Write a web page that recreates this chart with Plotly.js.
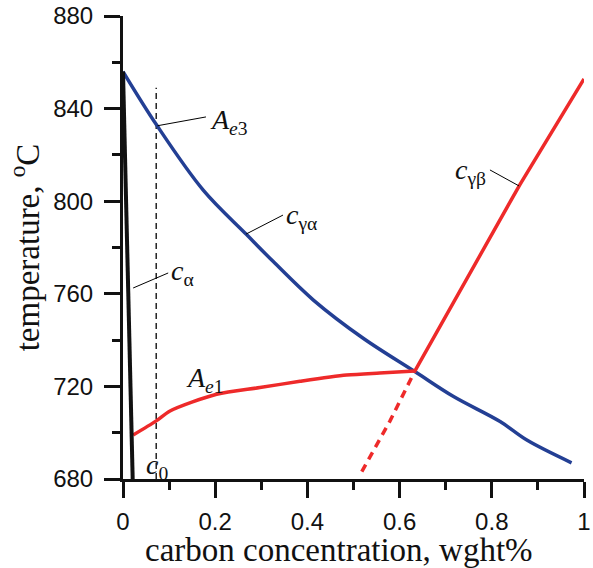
<!DOCTYPE html>
<html>
<head>
<meta charset="utf-8">
<script src="https://cdn.plot.ly/plotly-3.0.1.min.js"></script>
<style>
  html, body { margin: 0; padding: 0; background: #fff; }
  #chart { width: 593px; height: 568px; }
</style>
</head>
<body>
<div id="chart"></div>
<script>
// Phase boundaries of the Fe–C system near the eutectoid (carbon wt% vs temperature °C)

// c_alpha: ferrite solubility limit
const cAlphaX = [0, 0.021];
const cAlphaT = [856, 680];

// c_gamma_alpha: austenite/ferrite boundary (Ae3)
const cGammaAlphaX = [0, 0.073, 0.174, 0.268, 0.326, 0.413, 0.521, 0.633, 0.717, 0.818, 0.876, 0.973];
const cGammaAlphaT = [856, 832.9, 804.8, 785.6, 773.9, 757.3, 740.8, 726.4, 715.6, 704.8, 696.8, 687.0];

// Ae1 temperature line
const ae1X = [0.022, 0.072, 0.102, 0.203, 0.297, 0.384, 0.485, 0.557, 0.633];
const ae1T = [699, 705.1, 709.4, 716.6, 719.5, 722.2, 724.9, 725.8, 726.6];

// c_gamma_beta: austenite/cementite boundary, and its metastable extension
const cGammaBetaX = [0.633, 0.745, 0.861, 1.0];
const cGammaBetaT = [726.6, 766, 807.2, 852.8];
const cGammaBetaExtX = [0.518, 0.579, 0.633];
const cGammaBetaExtT = [683.2, 705.0, 726.6];

// alloy composition c0
const c0X = [0.072, 0.072];
const c0T = [680, 849];

// axis ticks
const xTickVals = [0, 0.2, 0.4, 0.6, 0.8, 1];
const xTickText = ['0', '0.2', '0.4', '0.6', '0.8', '1'];
const xMinorVals = [0.1, 0.3, 0.5, 0.7, 0.9];
const yTickVals = [680, 720, 760, 800, 840, 880];
const yTickText = ['680', '720', '760', '800', '840', '880'];
const yMinorVals = [700, 740, 780, 820, 860];

// curve labels: text, anchor position
const labelText = ['<i>A</i><sub><i>e</i>3</sub>', '<i>c</i><sub>γα</sub>', '<i>c</i><sub>α</sub>',
                   '<i>A</i><sub><i>e</i>1</sub>', '<i>c</i><sub>0</sub>', '<i>c</i><sub>γβ</sub>'];
const labelX = [0.184, 0.349, 0.100, 0.132, 0.046, 0.716];
const labelT = [834.5, 793.5, 769.0, 723.0, 685.5, 813.0];

// leader lines from each curve to its label
const leaderX0 = [0.075, 0.267, 0.022, 0.859];
const leaderT0 = [832.6, 785.8, 762.5, 806.6];
const leaderX1 = [0.180, 0.347, 0.098, 0.796];
const leaderT1 = [836.4, 794.0, 769.0, 813.5];

const BLUE = '#233f94';
const RED = '#ee2a2a';

const traces = [
  { x: c0X, y: c0T, mode: 'lines', line: { color: '#000', width: 1.3, dash: '6px,4px' } },
  { x: cGammaAlphaX, y: cGammaAlphaT, mode: 'lines', line: { color: BLUE, width: 3.5, shape: 'spline', smoothing: 1 } },
  { x: ae1X, y: ae1T, mode: 'lines', line: { color: RED, width: 3.5, shape: 'spline', smoothing: 0.8 } },
  { x: cGammaBetaX, y: cGammaBetaT, mode: 'lines', line: { color: RED, width: 3.5 } },
  { x: cGammaBetaExtX, y: cGammaBetaExtT, mode: 'lines', line: { color: RED, width: 3.5, dash: '8px,6px' } },
  { x: cAlphaX, y: cAlphaT, mode: 'lines', line: { color: '#111', width: 4 } }
];

const shapes = leaderX0.map((x0, i) => ({
  type: 'line', xref: 'x', yref: 'y',
  x0: x0, y0: leaderT0[i], x1: leaderX1[i], y1: leaderT1[i],
  line: { color: '#000', width: 1 }
}));

const serif = '"Liberation Serif", "Times New Roman", serif';

const annotations = labelText.map((t, i) => ({
  text: t, x: labelX[i], y: labelT[i], xref: 'x', yref: 'y',
  xanchor: 'left', yanchor: 'middle', showarrow: false,
  font: { family: serif, size: 28, color: '#111' }
}));

// horizontal axis title, placed under the tick labels
annotations.push({
  text: 'carbon concentration, wght%', xref: 'paper', yref: 'paper',
  x: 0.4685, y: -0.154, xanchor: 'center', yanchor: 'middle', showarrow: false,
  font: { family: serif, size: 33, color: '#111' }
});

const tickFont = { family: '"Liberation Sans", Arial, sans-serif', size: 24, color: '#111' };
const titleFont = { family: serif, size: 33, color: '#111' };

const layout = {
  width: 593, height: 568,
  margin: { l: 123, r: 9, t: 16, b: 89 },
  paper_bgcolor: '#fff', plot_bgcolor: '#fff',
  showlegend: false,
  xaxis: {
    range: [0, 1], showgrid: false, zeroline: false,
    showline: true, linecolor: '#111', linewidth: 3,
    ticks: 'outside', ticklen: 16, tickwidth: 3, tickcolor: '#111',
    tickmode: 'array', tickvals: xTickVals, ticktext: xTickText,
    minor: { tickmode: 'array', tickvals: xMinorVals, ticks: 'outside', ticklen: 8, tickwidth: 3, tickcolor: '#111', showgrid: false },
    tickfont: tickFont, ticklabelstandoff: 3
  },
  yaxis: {
    range: [680, 880], showgrid: false, zeroline: false,
    showline: true, linecolor: '#111', linewidth: 3,
    ticks: 'outside', ticklen: 16, tickwidth: 3, tickcolor: '#111',
    tickmode: 'array', tickvals: yTickVals, ticktext: yTickText,
    minor: { tickmode: 'array', tickvals: yMinorVals, ticks: 'outside', ticklen: 8, tickwidth: 3, tickcolor: '#111', showgrid: false },
    tickfont: tickFont, ticklabelstandoff: 6,
    title: { text: 'temperature, <sup>o</sup>C', font: titleFont, standoff: 4 }
  },
  shapes: shapes,
  annotations: annotations
};

Plotly.newPlot('chart', traces, layout, { staticPlot: true, displayModeBar: false });
</script>
</body>
</html>
